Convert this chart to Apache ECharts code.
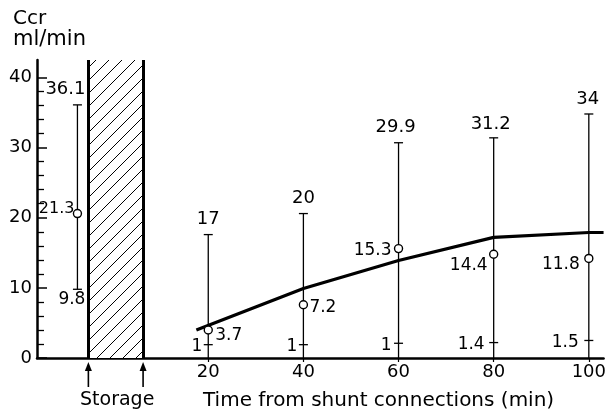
<!DOCTYPE html>
<html><head><meta charset="utf-8">
<script src="https://cdn.jsdelivr.net/npm/echarts@6/dist/echarts.min.js"></script>
<style>html,body{margin:0;padding:0;background:#fff}#c{width:609px;height:411px}</style>
</head><body><div id="c"></div>
<script>
// ---- data ----
const timePoints  = [-7.5, 20, 40, 60, 80, 100];        // min; first = before storage
const meanValues  = [20.6, 4.0, 7.6, 15.6, 14.8, 14.2]; // circles as drawn
const highValues  = [36.1, 17.6, 20.6, 30.7, 31.4, 34.8];
const lowValues   = [9.8, 1.9, 1.9, 2.1, 2.2, 2.5];
const meanLabels  = ['21.3', '3.7', '7.2', '15.3', '14.4', '11.8'];
const highLabels  = ['36.1', '17', '20', '29.9', '31.2', '34'];
const lowLabels   = ['9.8', '1', '1', '1', '1.4', '1.5'];
const trendTimes  = [17.5, 40, 60, 80, 100, 103.1];
const trendValues = [4.0, 9.9, 13.9, 17.2, 17.9, 17.9];
const storageInterval = [-5.2, 6.3];
const xTickValues = [20, 40, 60, 80, 100];
const yTickValues = [0, 10, 20, 30, 40];
const yMinorTickValues = [2, 4, 6, 8, 12, 14, 16, 18, 22, 24, 26, 28, 32, 34, 36, 38];

// ---- styles ----
const FONT = '"DejaVu Sans", sans-serif';
const meanLabelStyle = [
  {dx: -3, dy: -5, align: 'right', size: 16},
  {dx: 7, dy: 6, align: 'left', size: 17},
  {dx: 6, dy: 3, align: 'left', size: 17},
  {dx: -7, dy: 2, align: 'right', size: 17},
  {dx: -6, dy: 11, align: 'right', size: 17},
  {dx: -9, dy: 6, align: 'right', size: 17}
];
const highLabelStyle = [{dx: -12, dy: -16}, {dx: 0, dy: -15}, {dx: 0, dy: -15}, {dx: -3, dy: -15}, {dx: -3, dy: -14}, {dx: -1, dy: -15}];
const lowLabelStyle = [{dx: 8, dy: 10}, {dx: -6, dy: 2}, {dx: -6, dy: 2}, {dx: -7, dy: 2}, {dx: -9, dy: 2}, {dx: -10, dy: 2}];

const hatch = document.createElement('canvas');
hatch.width = 13; hatch.height = 13;
(function () {
  const g = hatch.getContext('2d');
  g.fillStyle = '#fff'; g.fillRect(0, 0, 13, 13);
  g.strokeStyle = '#000'; g.lineWidth = 1;
  g.beginPath();
  g.moveTo(-1, 14); g.lineTo(14, -1);
  g.moveTo(-2, 2); g.lineTo(2, -2);
  g.moveTo(11, 15); g.lineTo(15, 11);
  g.stroke();
})();

const errData = timePoints.map((t, i) => [t, meanValues[i], highValues[i], lowValues[i]]);
const trendData = trendTimes.map((t, i) => [t, trendValues[i]]);

const chart = echarts.init(document.getElementById('c'));
chart.setOption({
  animation: false,
  backgroundColor: '#fff',
  grid: {left: 37, right: 0, top: 60, bottom: 53},
  xAxis: {
    type: 'value', min: -16, max: 103.1,
    axisLine: {onZero: false, lineStyle: {color: '#000', width: 2.5}},
    splitLine: {show: false},
    axisTick: {show: true, length: 4, customValues: xTickValues, lineStyle: {color: '#000', width: 1.2}},
    axisLabel: {customValues: xTickValues, color: '#000', fontSize: 18, fontFamily: FONT, margin: 5}
  },
  yAxis: [{
    type: 'value', min: 0, max: 42.5, position: 'left',
    axisLine: {show: true, onZero: false, lineStyle: {color: '#000', width: 2.5}},
    splitLine: {show: false},
    axisTick: {show: true, inside: true, length: 10, customValues: yTickValues, lineStyle: {color: '#000', width: 1.5}},
    axisLabel: {customValues: yTickValues, color: '#000', fontSize: 18, fontFamily: FONT, margin: 5}
  }, {
    type: 'value', min: 0, max: 42.5, position: 'left', offset: 0,
    axisLine: {show: false, onZero: false},
    splitLine: {show: false},
    axisTick: {show: true, inside: true, length: 7, customValues: yMinorTickValues, lineStyle: {color: '#000', width: 1.3}},
    axisLabel: {show: false}
  }],
  graphic: [
    {type: 'text', left: 13, top: 9, style: {text: 'Ccr', font: '20px ' + FONT, fill: '#000'}},
    {type: 'text', left: 13, top: 29, style: {text: 'ml/min', font: '21px ' + FONT, fill: '#000'}},
    {type: 'text', left: 80, top: 391, style: {text: 'Storage', font: '19px ' + FONT, fill: '#000'}},
    {type: 'text', left: 203, top: 391, style: {text: 'Time from shunt connections (min)', font: '20px ' + FONT, fill: '#000'}}
  ],
  series: [
    {
      type: 'line', data: trendData, symbol: 'none', z: 3,
      lineStyle: {color: '#000', width: 3.2},
      markArea: {
        silent: true,
        itemStyle: {color: {image: hatch, repeat: 'repeat'}, borderWidth: 0},
        data: [[{xAxis: storageInterval[0], yAxis: 0}, {xAxis: storageInterval[1], yAxis: 42.5}]]
      },
      markLine: {
        silent: true, symbol: 'none', label: {show: false},
        lineStyle: {color: '#000', width: 3, type: 'solid'},
        data: storageInterval.map(v => ({xAxis: v}))
      }
    },
    {
      type: 'custom', z: 5, data: errData, clip: false,
      renderItem: function (params, api) {
        const i = params.dataIndex;
        const x = api.value(0);
        const pm = api.coord([x, api.value(1)]);
        const ph = api.coord([x, api.value(2)]);
        const pl = api.coord([x, api.value(3)]);
        const p0 = api.coord([x, 0]);
        const cap = 4.5;
        const st = {stroke: '#000', lineWidth: 1.3};
        const ch = [
          {type: 'line', shape: {x1: ph[0], y1: ph[1], x2: pl[0], y2: pl[1]}, style: st},
          {type: 'line', shape: {x1: ph[0] - cap, y1: ph[1], x2: ph[0] + cap, y2: ph[1]}, style: st},
          {type: 'line', shape: {x1: pl[0] - cap, y1: pl[1], x2: pl[0] + cap, y2: pl[1]}, style: st},
          {type: 'circle', shape: {cx: pm[0], cy: pm[1], r: 4}, style: {fill: '#fff', stroke: '#000', lineWidth: 1.4}}
        ];
        if (x > storageInterval[1]) {
          ch.push({type: 'line', shape: {x1: pl[0], y1: pl[1], x2: p0[0], y2: p0[1]}, style: st});
        }
        const ms = meanLabelStyle[i], hs = highLabelStyle[i], ls = lowLabelStyle[i];
        ch.push({type: 'text', style: {text: meanLabels[i], x: pm[0] + ms.dx, y: pm[1] + ms.dy, align: ms.align, verticalAlign: 'middle', font: ms.size + 'px ' + FONT, fill: '#000'}});
        ch.push({type: 'text', style: {text: highLabels[i], x: ph[0] + hs.dx, y: ph[1] + hs.dy, align: 'center', verticalAlign: 'middle', font: '18px ' + FONT, fill: '#000'}});
        ch.push({type: 'text', style: {text: lowLabels[i], x: pl[0] + ls.dx, y: pl[1] + ls.dy, align: 'right', verticalAlign: 'middle', font: '17px ' + FONT, fill: '#000'}});
        return {type: 'group', children: ch};
      }
    },
    {
      type: 'custom', z: 5, data: storageInterval.map(v => [v, 0]), clip: false,
      renderItem: function (params, api) {
        const p = api.coord([api.value(0), 0]);
        return {type: 'group', children: [
          {type: 'line', shape: {x1: p[0], y1: p[1] + 10, x2: p[0], y2: p[1] + 29}, style: {stroke: '#000', lineWidth: 1.6}},
          {type: 'polygon', shape: {points: [[p[0], p[1] + 4], [p[0] - 3.5, p[1] + 13], [p[0] + 3.5, p[1] + 13]]}, style: {fill: '#000'}}
        ]};
      }
    }
  ]
});
</script>
</body></html>
